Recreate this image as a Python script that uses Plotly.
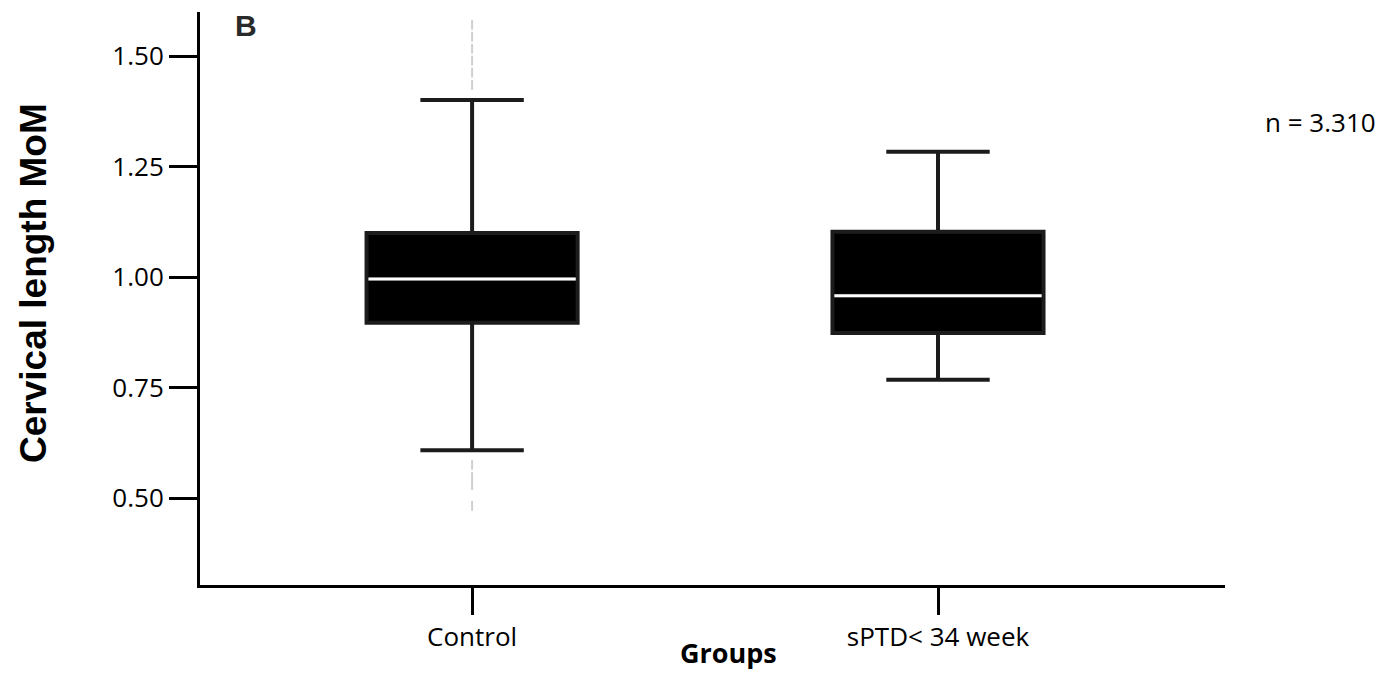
import plotly.graph_objects as go

# ---- data ----
categories = ["Control", "sPTD< 34 week"]
positions = [0, 1]
q1 = [0.897, 0.874]
median = [0.996, 0.958]
q3 = [1.100, 1.103]
lower_fence = [0.609, 0.768]
upper_fence = [1.401, 1.284]

control_outliers_upper = [1.435, 1.463, 1.490, 1.517, 1.544, 1.571]
control_outliers_lower = [0.576, 0.548, 0.530, 0.483]

y_tickvals = [0.50, 0.75, 1.00, 1.25, 1.50]
y_ticktext = ["0.50", "0.75", "1.00", "1.25", "1.50"]

# ---- styles ----
BOX_W = 0.453
W, H = 1390, 673
L, R, T, B = 200, 165, 12, 88
tick_font = dict(family="Open Sans", size=26, color="black")


def px(xp):
    return (xp - L) / (W - L - R)


def py(yp):
    return (H - B - yp) / (H - T - B)


fig = go.Figure()

for i, cat in enumerate(categories):
    fig.add_trace(go.Box(
        x=[positions[i]], q1=[q1[i]], median=[median[i]], q3=[q3[i]],
        lowerfence=[lower_fence[i]], upperfence=[upper_fence[i]],
        name=cat, width=BOX_W, whiskerwidth=0.49,
        fillcolor="black", line=dict(color="#1c1c1c", width=4),
        boxpoints=False, showlegend=False, hoverinfo="skip",
    ))
    # white median line across the box
    fig.add_trace(go.Scatter(
        x=[positions[i] - BOX_W / 2 + 0.004, positions[i] + BOX_W / 2 - 0.004],
        y=[median[i], median[i]],
        mode="lines", line=dict(color="white", width=3),
        showlegend=False, hoverinfo="skip",
    ))

outliers = control_outliers_upper + control_outliers_lower
fig.add_trace(go.Scatter(
    x=[positions[0]] * len(outliers), y=outliers, mode="markers",
    marker=dict(symbol="line-ns", size=7, line=dict(color="#cfcfcf", width=2)),
    showlegend=False, hoverinfo="skip",
))

fig.update_layout(
    width=W, height=H,
    margin=dict(l=L, r=R, t=T, b=B),
    plot_bgcolor="white", paper_bgcolor="white",
    font=tick_font,
    showlegend=False,
)

fig.update_xaxes(
    range=[-0.584, 1.616], tickvals=positions, ticktext=categories,
    showgrid=False, zeroline=False,
    showline=True, linecolor="black", linewidth=3,
    ticks="outside", ticklen=27, tickwidth=3, tickcolor="black",
    tickfont=tick_font,
)
fig.update_yaxes(
    range=[0.304, 1.600], tickvals=y_tickvals, ticktext=y_ticktext,
    showgrid=False, zeroline=False,
    showline=True, linecolor="black", linewidth=3,
    ticks="outside", ticklen=28, tickwidth=3, tickcolor="black",
    tickfont=tick_font,
)

fig.add_annotation(
    text="<b>Cervical length MoM</b>", textangle=-90,
    xref="paper", yref="paper", x=px(33), y=py(283),
    xanchor="center", yanchor="middle", showarrow=False,
    font=dict(family="Liberation Sans", size=37, color="black"),
)
fig.add_annotation(
    text="<b>Groups</b>",
    xref="paper", yref="paper", x=px(728), y=py(652),
    xanchor="center", yanchor="middle", showarrow=False,
    font=dict(family="Open Sans", size=27, color="black"),
)
fig.add_annotation(
    text="n = 3.310",
    xref="paper", yref="paper", x=px(1320), y=py(122),
    xanchor="center", yanchor="middle", showarrow=False,
    font=dict(family="Open Sans", size=26, color="black"),
)
fig.add_annotation(
    text="<b>B</b>",
    xref="paper", yref="paper", x=px(246), y=py(25),
    xanchor="center", yanchor="middle", showarrow=False,
    font=dict(family="Liberation Sans", size=30, color="#2a2a2a"),
)

fig.write_html(
    "out.html",
    config={"displayModeBar": False},
    post_script="document.body.style.margin='0';document.body.style.overflow='hidden';",
)
